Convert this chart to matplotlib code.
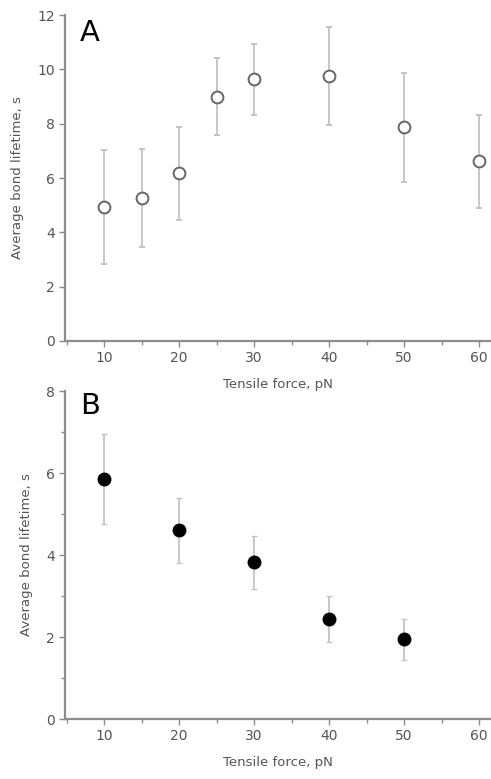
import numpy as np
import matplotlib.pyplot as plt
from matplotlib.ticker import MultipleLocator

# panel A
force_a = [10, 15, 20, 25, 30, 40, 50, 60]
life_a = [4.92, 5.27, 6.17, 9.00, 9.64, 9.75, 7.87, 6.61]
err_a = [2.10, 1.81, 1.71, 1.40, 1.31, 1.81, 2.00, 1.70]

# panel B
force_b = [10, 20, 30, 40, 50]
life_b = [5.85, 4.60, 3.82, 2.45, 1.95]
err_b = [1.10, 0.80, 0.64, 0.56, 0.50]

axis_col = "#8c8c8c"
text_col = "#555555"
err_col = "#c4c4c4"

fig = plt.figure(figsize=(4.91, 7.79), dpi=100)
axA = fig.add_axes([0.1324, 0.5623, 0.8676, 0.4184])
axB = fig.add_axes([0.1324, 0.0770, 0.8676, 0.4210])


def style(ax):
    for s in ["top", "right"]:
        ax.spines[s].set_visible(False)
    for s in ["left", "bottom"]:
        ax.spines[s].set_color(axis_col)
        ax.spines[s].set_linewidth(1.6)
    ax.set_xlim(4.8, 61.6)
    ax.xaxis.set_major_locator(MultipleLocator(10))
    ax.xaxis.set_minor_locator(MultipleLocator(5))
    ax.tick_params(which="both", direction="out", colors=axis_col,
                   labelcolor=text_col, labelsize=10)
    ax.tick_params(which="major", length=4, width=1)
    ax.tick_params(which="minor", length=3, width=1)
    ax.set_xlabel("Tensile force, pN", color=text_col, fontsize=9.5, labelpad=9)
    ax.set_ylabel("Average bond lifetime, s", color=text_col, fontsize=9.5,
                  labelpad=9)


style(axA)
axA.set_ylim(0, 12)
axA.yaxis.set_major_locator(MultipleLocator(2))
axA.errorbar(force_a, life_a, yerr=err_a, fmt="o", ms=8.5, mfc="white",
             mec="#666666", mew=1.4, ecolor=err_col, elinewidth=1.3,
             capsize=2.5, capthick=1, zorder=3)
axA.text(0.035, 0.945, "A", transform=axA.transAxes, fontsize=21,
         color="black", va="center", ha="left")

style(axB)
axB.set_ylim(0, 8)
axB.yaxis.set_major_locator(MultipleLocator(2))
axB.yaxis.set_minor_locator(MultipleLocator(1))
axB.errorbar(force_b, life_b, yerr=err_b, fmt="o", ms=9, mfc="black",
             mec="black", ecolor=err_col, elinewidth=1.3,
             capsize=2.5, capthick=1, zorder=3)
axB.text(0.035, 0.955, "B", transform=axB.transAxes, fontsize=21,
         color="black", va="center", ha="left")

fig.savefig("out.png", dpi=100)
